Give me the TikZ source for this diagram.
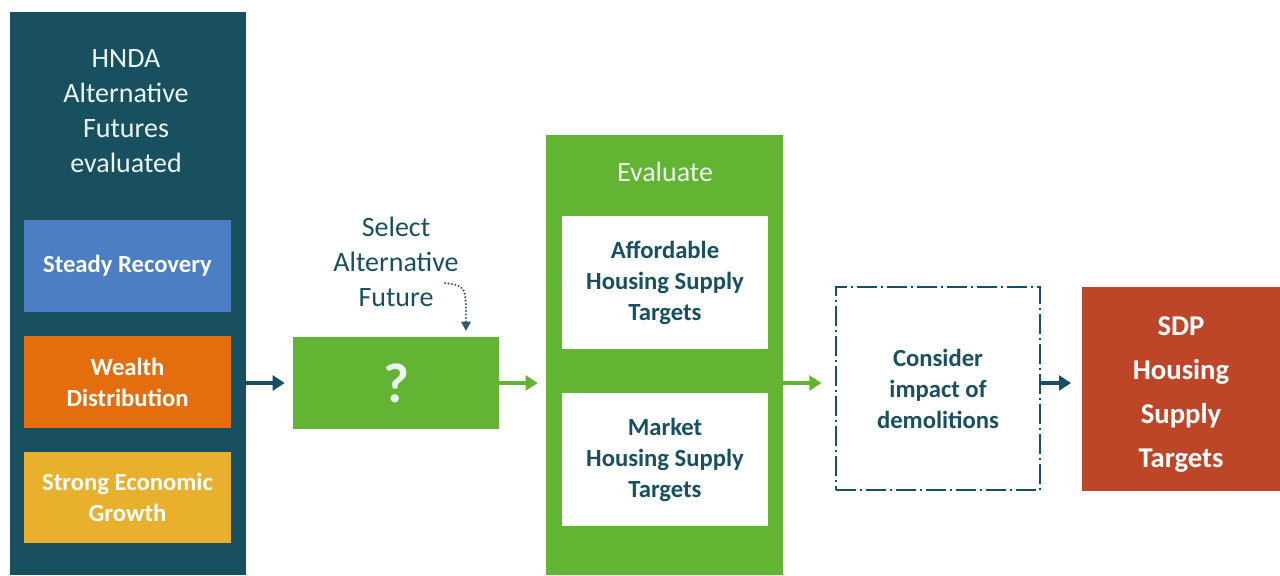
\documentclass[tikz,border=0pt]{standalone}
\usepackage{fontspec}
\setmainfont{Carlito}
\usetikzlibrary{arrows.meta}

\definecolor{hndateal}{RGB}{24,80,96}
\definecolor{srblue}{RGB}{76,126,196}
\definecolor{wdorange}{RGB}{228,110,14}
\definecolor{seggold}{RGB}{232,176,44}
\definecolor{evgreen}{RGB}{98,180,50}
\definecolor{sdpred}{RGB}{190,70,40}
\definecolor{paletext}{RGB}{236,246,240}

\begin{document}
\begin{tikzpicture}[x=0.75pt,y=-0.75pt,
  block/.style 2 args={inner sep=0pt, draw=none, align=center,
    minimum width={#1*0.75pt}, minimum height={#2*0.75pt}},
  regtext/.style={align=center, font=\fontsize{21}{26.2}\selectfont},
  boldtext/.style={font=\bfseries\fontsize{18.5}{23.2}\selectfont},
  arr/.style={line width=3pt, -{Triangle[length=9pt,width=11pt]}},
]
\useasboundingbox (0,0) rectangle (1280,575);
\fill[white] (0,0) rectangle (1280,575);

% left column: alternative futures
\node[block={236}{563}, fill=hndateal] (panel) at (128,293.5) {};
\node[regtext, text=paletext] (title) at (126,111) {HNDA\\Alternative\\Futures\\evaluated};
\node[block={207}{92}, fill=srblue, boldtext, text=white] (steady) at (127.5,266) {Steady Recovery};
\node[block={207}{92}, fill=wdorange, boldtext, text=white] (wealth) at (127.5,382) {Wealth\\Distribution};
\node[block={207}{91}, fill=seggold, boldtext, text=white] (strong) at (127.5,497.5) {Strong Economic\\Growth};

% selection step
\node[block={206}{92}, fill=evgreen, text=paletext,
      font=\bfseries\fontsize{42}{46}\selectfont] (select) at (396,383) {?};
\node[regtext, text=hndateal] (seltext) at (396,262) {Select\\Alternative\\Future};
\coordinate (dotA) at (445,283);
\coordinate (dotB) at (466,331);
\draw[hndateal!75!gray, line width=1.7pt, line cap=round, dash pattern=on 0pt off 2.6pt,
      -{Triangle[length=7pt,width=7pt]}] (dotA) .. controls (466,286) .. (dotB);

% evaluation column
\node[block={237}{440}, fill=evgreen] (evaluate) at (664.5,355) {};
\node[regtext, text=paletext] (evaltitle) at (665,172) {Evaluate};
\node[block={206}{133}, fill=white, boldtext, text=hndateal] (afford) at (665,282.5) {Affordable\\Housing Supply\\Targets};
\node[block={206}{133}, fill=white, boldtext, text=hndateal] (market) at (665,459.5) {Market\\Housing Supply\\Targets};

% demolitions check
\node[block={204}{203}, draw=hndateal, line width=1.9pt,
      dash pattern=on 15pt off 3pt on 1.5pt off 3pt,
      boldtext, text=hndateal] (demol) at (938,388.5) {Consider\\impact of\\demolitions};

% result box, its text set a little below centre
\node[block={198}{204}, fill=sdpred] (sdp) at (1181,389) {};
\node[align=center, text=white, font=\bfseries\fontsize{21.5}{33}\selectfont,
      inner sep=0pt] (sdptext) at ([yshift=-4pt]sdp.center) {SDP\\Housing\\Supply\\Targets};

% connectors
\draw[arr, hndateal] (select.west -| panel.east) -- ([xshift=-6pt]select.west);
\draw[arr, evgreen] (select.east) -- ([xshift=-6pt]select.east -| evaluate.west);
\draw[arr, evgreen] (select.east -| evaluate.east) -- ([xshift=-10pt]select.east -| demol.west);
\draw[arr, hndateal] (select.east -| demol.east) -- ([xshift=-8pt]select.east -| sdp.west);
\end{tikzpicture}
\end{document}
